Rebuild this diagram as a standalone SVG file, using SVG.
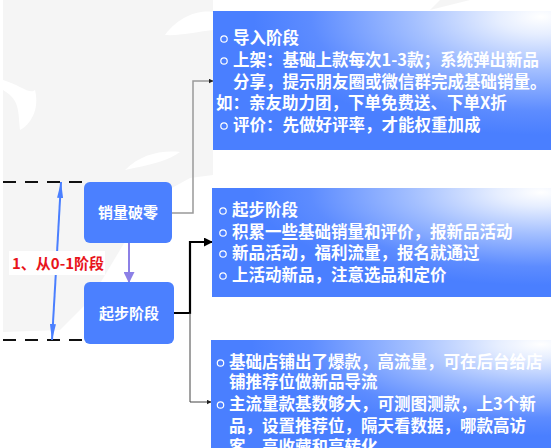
<svg xmlns="http://www.w3.org/2000/svg" width="551" height="448" viewBox="0 0 551 448">
<defs>
<radialGradient id="g" cx="0.97" cy="0.04" r="0.85" fx="0.97" fy="0.04">
<stop offset="0" stop-color="#ffffff"/>
<stop offset="0.15" stop-color="#e6eeff"/>
<stop offset="0.45" stop-color="#a3bfff"/>
<stop offset="0.8" stop-color="#5d8cff"/>
<stop offset="1" stop-color="#4a7fff"/>
</radialGradient>
<marker id="ah" viewBox="0 0 10 10" refX="9" refY="5" markerWidth="5" markerHeight="5" orient="auto" markerUnits="userSpaceOnUse">
<path d="M0,0 L10,5 L0,10 z" fill="#222"/>
</marker>
<marker id="ahb" viewBox="0 0 10 10" refX="9" refY="5" markerWidth="9" markerHeight="9" orient="auto" markerUnits="userSpaceOnUse">
<path d="M0,0 L10,5 L0,10 z" fill="#000"/>
</marker>
<marker id="ahp" viewBox="0 0 10 10" refX="9" refY="5" markerWidth="11" markerHeight="11" orient="auto" markerUnits="userSpaceOnUse">
<path d="M0,0 L10,5 L0,10 z" fill="#8c80e6"/>
</marker>
<marker id="ahl" viewBox="0 0 16 6" refX="16" refY="3" markerWidth="16" markerHeight="6" orient="auto" markerUnits="userSpaceOnUse">
<path d="M0,0 L16,3 L0,6 z" fill="#4a7fff"/>
</marker>
<style>
.box{fill:url(#g)}
.node{fill:#4b80ff}
.t{font-family:"Noto Sans CJK SC","Noto Sans",sans-serif;font-weight:bold;fill:#ffffff;font-size:16.5px}
.nt{font-family:"Noto Sans CJK SC","Noto Sans",sans-serif;font-weight:bold;fill:#ffffff;font-size:15px}
.b{fill:none;stroke:#ffffff;stroke-width:1.2}
.dash{stroke:#111;stroke-width:2;stroke-dasharray:13 9}
</style>
</defs>
<rect width="551" height="448" fill="#ffffff"/>
<g id="watermark" fill="#f5f5f5">
<path d="M3,0 L213,0 L213,175 L190,178 L150,200 L120,250 L90,300 L60,330 L3,332 Z"/>
<path d="M440,0 L470,0 L430,10 Z"/>
</g>
<g fill="#ffffff">
<path d="M3,80 C20,85 30,95 35,90 C40,110 30,125 20,130 C18,110 20,100 3,90 Z"/>
<path d="M165,35 C180,15 200,10 213,12 L213,30 C195,32 180,36 165,35 Z"/>
<path d="M125,170 C140,155 160,150 180,152 C170,160 150,165 125,170 Z"/>
</g>
<g id="connectors" fill="none">
<polyline points="171,213 193,213 193,81 213,81" stroke="#999" stroke-width="1.5" marker-end="url(#ah)"/>
<polyline points="174,313 190,313 190,242 212,242" stroke="#000" stroke-width="2.2" marker-end="url(#ahb)"/>
<polyline points="190,313 190,402 211,402" stroke="#444" stroke-width="1" marker-end="url(#ah)"/>
<line x1="129" y1="243" x2="129" y2="282" stroke="#8c80e6" stroke-width="2" marker-end="url(#ahp)"/>
<line x1="3" y1="182" x2="84" y2="182" class="dash"/>
<line x1="3" y1="340" x2="84" y2="340" class="dash"/>
<line x1="56.5" y1="262" x2="61" y2="182" stroke="#4a7fff" stroke-width="2" marker-end="url(#ahl)"/>
<line x1="56.5" y1="262" x2="52" y2="340" stroke="#4a7fff" stroke-width="2" marker-end="url(#ahl)"/>
</g>
<g id="label">
<rect x="9" y="251" width="96" height="24" fill="#ffffff"/>
<text x="12" y="269" font-family="Noto Sans CJK SC,Noto Sans,sans-serif" font-weight="bold" font-size="15" fill="#e8141b">1、从0-1阶段</text>
</g>
<g id="node-xiaoliang">
<rect x="84" y="182" width="88" height="61" rx="6" class="node"/>
<text x="128" y="218" class="nt" text-anchor="middle">销量破零</text>
</g>
<g id="node-qibu">
<rect x="84" y="282" width="90" height="62" rx="6" class="node"/>
<text x="129" y="319" class="nt" text-anchor="middle">起步阶段</text>
</g>
<g id="box-daoru">
<rect x="213" y="11" width="338" height="139" class="box"/>
<circle cx="224" cy="39" r="3.2" class="b"/>
<circle cx="224" cy="61" r="3.2" class="b"/>
<circle cx="224" cy="126" r="3.2" class="b"/>
<text class="t" x="233" y="44">导入阶段</text>
<text class="t" x="233" y="66">上架：基础上款每次1-3款；系统弹出新品</text>
<text class="t" x="233" y="88">分享，提示朋友圈或微信群完成基础销量。</text>
<text class="t" x="216" y="109">如：亲友助力团，下单免费送、下单X折</text>
<text class="t" x="233" y="131">评价：先做好评率，才能权重加成</text>
</g>
<g id="box-qibu">
<rect x="212" y="188" width="339" height="109" class="box"/>
<circle cx="223" cy="211" r="3.2" class="b"/>
<circle cx="223" cy="233" r="3.2" class="b"/>
<circle cx="223" cy="254" r="3.2" class="b"/>
<circle cx="223" cy="276" r="3.2" class="b"/>
<text class="t" x="232" y="216">起步阶段</text>
<text class="t" x="232" y="238">积累一些基础销量和评价，报新品活动</text>
<text class="t" x="232" y="259">新品活动，福利流量，报名就通过</text>
<text class="t" x="232" y="281">上活动新品，注意选品和定价</text>
</g>
<g id="box-liuliang">
<rect x="211" y="340" width="340" height="108" class="box"/>
<circle cx="220.5" cy="363" r="3.2" class="b"/>
<circle cx="220.5" cy="405" r="3.2" class="b"/>
<text class="t" x="229" y="368">基础店铺出了爆款，高流量，可在后台给店</text>
<text class="t" x="229" y="388">铺推荐位做新品导流</text>
<text class="t" x="229" y="410">主流量款基数够大，可测图测款，上3个新</text>
<text class="t" x="229" y="432">品，设置推荐位，隔天看数据，哪款高访</text>
<text class="t" x="229" y="453">客、高收藏和高转化</text>
</g>
</svg>
